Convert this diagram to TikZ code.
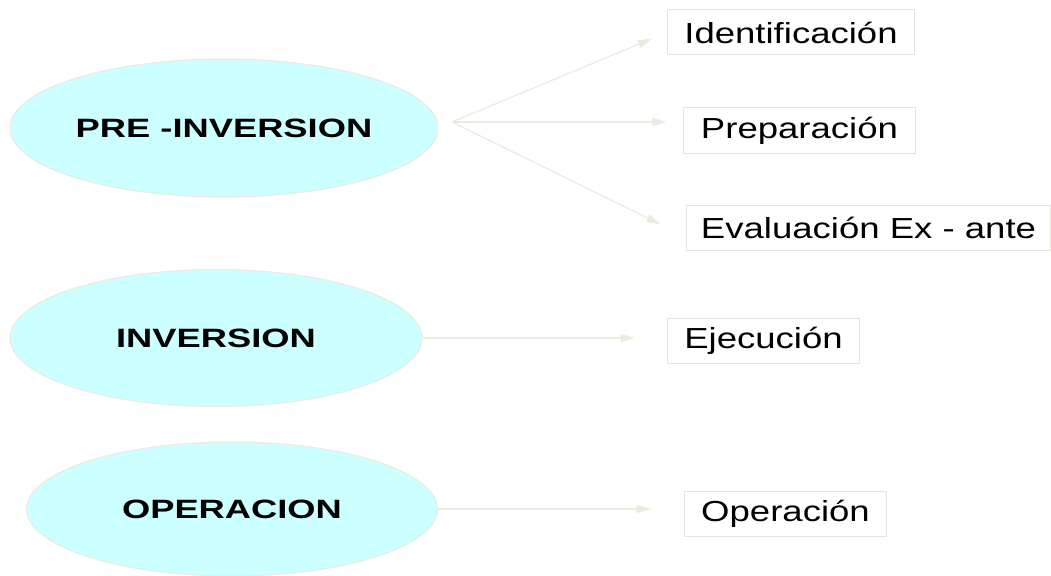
\documentclass[tikz,border=0pt]{standalone}
\usepackage{fontspec}
\setmainfont{Liberation Sans}
\newfontfamily\boxfont[FakeStretch=1.26]{Liberation Sans}
\newfontfamily\ovalfont[FakeStretch=1.37]{Liberation Sans}
\usetikzlibrary{arrows.meta,shapes.geometric}
\definecolor{ovalfill}{HTML}{CCFFFF}
\definecolor{paleline}{HTML}{ECE9DF}
\definecolor{boxline}{HTML}{E6E4DC}
\tikzset{
  phase/.style={ellipse, draw=paleline, line width=1pt, fill=ovalfill, inner sep=0pt,
    font=\ovalfont\bfseries\fontsize{26.5pt}{31pt}\selectfont},
  stage/.style={rectangle, draw=boxline, line width=1pt, fill=white, inner xsep=17pt,
    inner ysep=0pt, minimum height=45pt, font=\boxfont\fontsize{29pt}{34pt}\selectfont},
  flow/.style={draw=paleline, line width=1.2pt, -{Triangle[length=14pt,width=8pt]}}
}
\begin{document}
\begin{tikzpicture}[x=1pt,y=-1pt]
      \useasboundingbox (0,0) rectangle (1051,575);
      \node[phase, minimum width=428pt, minimum height=138pt] (pre) at (224,128) {PRE -INVERSION};
      \node[phase, minimum width=412pt, minimum height=137pt] (inv) at (216,338) {INVERSION};
      \node[phase, minimum width=411pt, minimum height=134pt] (ope) at (232,509) {OPERACION};
      \node[stage] (ide) at (791,32.5) {Identificación};
      \node[stage] (prep) at (799.5,130.5) {Preparación};
      \node[stage, inner xsep=14pt] (eva) at (868.5,228) {Evaluación Ex - ante};
      \node[stage] (eje) at (763.5,340.5) {Ejecución};
      \node[stage] (opr) at (785.5,513.5) {Operación};
      \coordinate (fork) at (452,122);
      \begin{scope}[flow]
        \draw[shorten >=16pt] (fork) to (ide.west);
        \draw[shorten >=17pt] (fork) to (fork -| prep.west);
        \draw[shorten >=29pt] (fork) to ([yshift=-9pt]eva.west);
        \draw[shorten >=32pt] (inv.east) to (inv.east -| eje.west);
        \draw[shorten >=33pt] (ope.east) to (ope.east -| opr.west);
      \end{scope}
    \end{tikzpicture}
\end{document}
